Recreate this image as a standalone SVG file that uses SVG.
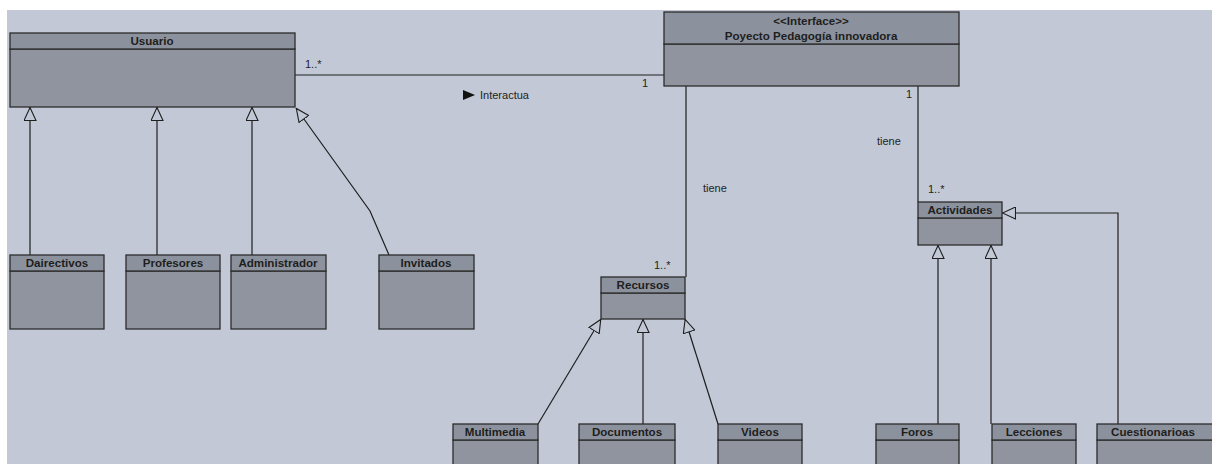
<svg xmlns="http://www.w3.org/2000/svg" width="1212" height="464" viewBox="0 0 1212 464">
<defs>
<style>
.hd{fill:#8c929d;stroke:#2b2b2b;stroke-width:1.3}
.bd{fill:#8f949f;stroke:#2b2b2b;stroke-width:1.3}
.nm{font-family:"Liberation Sans",Arial,sans-serif;font-size:11.6px;font-weight:bold;fill:#1e1e1e;text-anchor:middle}
.lb{font-family:"Liberation Sans",Arial,sans-serif;font-size:11px;fill:#1e1e1e}
.cn{fill:none;stroke:#1e1e1e;stroke-width:1.2}
.gen{marker-end:url(#tri)}
</style>
<marker id="tri" viewBox="0 0 14 13" refX="14" refY="6.5" markerWidth="14" markerHeight="13" markerUnits="userSpaceOnUse" orient="auto">
<path d="M0.5,0.5 L13.5,6.5 L0.5,12.5 Z" fill="#c2c8d6" stroke="#1e1e1e" stroke-width="1.1"/>
</marker>
</defs>
<rect x="0" y="0" width="1212" height="464" fill="#ffffff"/>
<rect x="7" y="10" width="1205" height="454" fill="#c2c8d6"/>

<g id="connectors">
<line class="cn" x1="295" y1="75" x2="664" y2="75"/>
<text class="lb" x="305" y="68">1..*</text>
<text class="lb" x="642" y="87">1</text>
<path d="M463,90 L475,95 L463,100 Z" fill="#111"/>
<text class="lb" x="480" y="99">Interactua</text>

<path class="cn gen" d="M30,255 L30,107"/>
<path class="cn gen" d="M157,255 L157,107"/>
<path class="cn gen" d="M252,255 L252,107"/>
<path class="cn gen" d="M389,255 L370,211 L296,108"/>

<line class="cn" x1="686" y1="86" x2="686" y2="277"/>
<text class="lb" x="703" y="192">tiene</text>
<text class="lb" x="654" y="269">1..*</text>

<line class="cn" x1="918" y1="86" x2="918" y2="202"/>
<text class="lb" x="906" y="98">1</text>
<text class="lb" x="877" y="145">tiene</text>
<text class="lb" x="928" y="193">1..*</text>

<path class="cn gen" d="M538,424 L601,319"/>
<path class="cn gen" d="M643,424 L643,319"/>
<path class="cn gen" d="M718,424 L685,319"/>

<path class="cn gen" d="M938,424 L938,245"/>
<path class="cn gen" d="M991,424 L991,245"/>
<path class="cn gen" d="M1118,424 L1118,213 L1002,213"/>
</g>

<g id="usuario">
<rect class="bd" x="10" y="49" width="285" height="58"/>
<rect class="hd" x="10" y="33" width="285" height="16"/>
<text class="nm" x="152" y="45">Usuario</text>
</g>

<g id="interface">
<rect class="bd" x="664" y="44" width="295" height="42"/>
<rect class="hd" x="664" y="12" width="295" height="32"/>
<text class="nm" x="811" y="25">&lt;&lt;Interface&gt;&gt;</text>
<text class="nm" x="811" y="40">Poyecto Pedagogía innovadora</text>
</g>

<g id="dairectivos">
<rect class="bd" x="10" y="271" width="94" height="58"/>
<rect class="hd" x="10" y="255" width="94" height="16"/>
<text class="nm" x="57" y="267">Dairectivos</text>
</g>
<g id="profesores">
<rect class="bd" x="126" y="271" width="94" height="58"/>
<rect class="hd" x="126" y="255" width="94" height="16"/>
<text class="nm" x="173" y="267">Profesores</text>
</g>
<g id="administrador">
<rect class="bd" x="231" y="271" width="95" height="58"/>
<rect class="hd" x="231" y="255" width="95" height="16"/>
<text class="nm" x="278" y="267">Administrador</text>
</g>
<g id="invitados">
<rect class="bd" x="379" y="271" width="95" height="58"/>
<rect class="hd" x="379" y="255" width="95" height="16"/>
<text class="nm" x="426" y="267">Invitados</text>
</g>

<g id="recursos">
<rect class="bd" x="601" y="293" width="84" height="26"/>
<rect class="hd" x="601" y="277" width="84" height="16"/>
<text class="nm" x="643" y="289">Recursos</text>
</g>

<g id="actividades">
<rect class="bd" x="918" y="218" width="84" height="27"/>
<rect class="hd" x="918" y="202" width="84" height="16"/>
<text class="nm" x="960" y="214">Actividades</text>
</g>

<g id="multimedia">
<rect class="bd" x="453" y="440" width="85" height="30"/>
<rect class="hd" x="453" y="424" width="85" height="16"/>
<text class="nm" x="495" y="436">Multimedia</text>
</g>
<g id="documentos">
<rect class="bd" x="579" y="440" width="96" height="30"/>
<rect class="hd" x="579" y="424" width="96" height="16"/>
<text class="nm" x="627" y="436">Documentos</text>
</g>
<g id="videos">
<rect class="bd" x="718" y="440" width="84" height="30"/>
<rect class="hd" x="718" y="424" width="84" height="16"/>
<text class="nm" x="760" y="436">Videos</text>
</g>
<g id="foros">
<rect class="bd" x="876" y="440" width="83" height="30"/>
<rect class="hd" x="876" y="424" width="83" height="16"/>
<text class="nm" x="917" y="436">Foros</text>
</g>
<g id="lecciones">
<rect class="bd" x="992" y="440" width="84" height="30"/>
<rect class="hd" x="992" y="424" width="84" height="16"/>
<text class="nm" x="1034" y="436">Lecciones</text>
</g>
<g id="cuestionarioas">
<rect class="bd" x="1097" y="440" width="120" height="30"/>
<rect class="hd" x="1097" y="424" width="120" height="16"/>
<text class="nm" x="1153" y="436">Cuestionarioas</text>
</g>
</svg>
